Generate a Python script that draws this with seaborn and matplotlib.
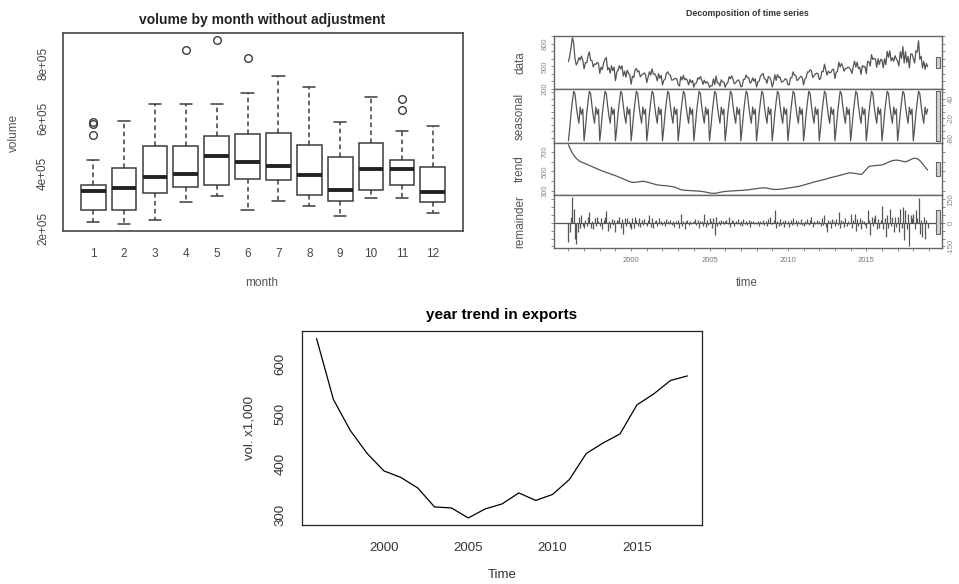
import numpy as np
import pandas as pd
import matplotlib
matplotlib.use("Agg")
import matplotlib.pyplot as plt
from matplotlib.patches import Rectangle
import seaborn as sns

# ------------------------------------------------------------------ data
# boxplot: volume by month (five-number summaries + outliers)
months = list(range(1, 13))
box_lo = [2.24e5, 2.18e5, 2.31e5, 2.96e5, 3.17e5, 2.69e5, 3.00e5, 2.81e5, 2.45e5, 3.10e5, 3.11e5, 2.57e5]
box_q1 = [2.67e5, 2.69e5, 3.31e5, 3.52e5, 3.58e5, 3.80e5, 3.78e5, 3.23e5, 2.99e5, 3.39e5, 3.58e5, 2.98e5]
box_med = [3.35e5, 3.48e5, 3.87e5, 3.98e5, 4.62e5, 4.41e5, 4.26e5, 3.93e5, 3.41e5, 4.15e5, 4.18e5, 3.33e5]
box_q3 = [3.60e5, 4.20e5, 5.01e5, 5.01e5, 5.37e5, 5.42e5, 5.48e5, 5.02e5, 4.61e5, 5.10e5, 4.50e5, 4.25e5]
box_hi = [4.50e5, 5.89e5, 6.52e5, 6.51e5, 6.53e5, 6.92e5, 7.54e5, 7.13e5, 5.88e5, 6.78e5, 5.53e5, 5.72e5]
box_out = [[5.39e5, 5.78e5, 5.86e5], [], [], [8.47e5], [8.83e5], [8.18e5],
           [], [], [], [], [6.32e5, 6.72e5], []]

# decomposition (monthly, 1996-2018, volume x1000)
start_year = 1996
n_years = 23
seasonal_cycle = [-88, -50, -5, 30, 62, 55, 18, -12, -35, 14, -8, 8]
trend_monthly = [
    [776, 745, 715, 690, 668, 650, 635, 622, 611, 602, 595, 590],
    [585, 579, 573, 567, 561, 555, 549, 543, 537, 531, 525, 519],
    [513, 508, 503, 498, 493, 488, 484, 479, 474, 469, 464, 460],
    [455, 449, 444, 438, 433, 427, 421, 416, 410, 404, 399, 393],
    [388, 386, 385, 386, 388, 390, 392, 394, 396, 396, 395, 393],
    [390, 386, 382, 378, 374, 370, 366, 363, 360, 357, 356, 355],
    [353, 352, 351, 350, 349, 347, 345, 343, 341, 338, 333, 327],
    [321, 315, 310, 307, 305, 304, 303, 302, 301, 300, 299, 298],
    [297, 297, 296, 296, 295, 294, 292, 290, 288, 285, 282, 279],
    [276, 274, 273, 272, 272, 274, 277, 280, 283, 286, 288, 290],
    [292, 293, 294, 295, 296, 297, 297, 298, 299, 300, 301, 302],
    [302, 303, 304, 305, 306, 308, 310, 312, 314, 316, 318, 320],
    [322, 324, 326, 327, 328, 329, 329, 328, 326, 323, 320, 317],
    [315, 313, 312, 312, 312, 313, 314, 316, 318, 320, 322, 324],
    [326, 328, 330, 332, 334, 336, 338, 340, 343, 346, 350, 354],
    [358, 362, 366, 370, 374, 378, 382, 386, 390, 393, 396, 399],
    [401, 404, 408, 412, 416, 420, 424, 428, 432, 436, 439, 442],
    [444, 447, 451, 455, 459, 463, 467, 471, 475, 478, 481, 483],
    [484, 483, 481, 479, 477, 475, 472, 470, 468, 475, 490, 505],
    [520, 535, 548, 553, 555, 557, 558, 560, 561, 562, 563, 565],
    [566, 570, 576, 582, 588, 594, 600, 606, 610, 613, 615, 616],
    [615, 613, 610, 606, 603, 600, 600, 603, 608, 615, 622, 628],
    [633, 635, 634, 630, 622, 610, 596, 580, 562, 545, 528, 514],
]
remainder_monthly = [
    [-124, -60, 40, 164, 90, -100, -134, -60, 40, -30, 50, -20],
    [-30, 20, -20, 40, 70, -30, 10, -40, 30, -20, 35, 10],
    [-20, 30, -40, 20, 40, 76, -50, 15, -30, 25, -15, 20],
    [-60, 20, 10, 40, -30, 25, -70, 30, -20, 30, 15, -25],
    [-40, 30, -30, 35, 20, -20, 30, -25, 20, -15, 25, -10],
    [-20, 20, 50, -25, 30, -30, 15, 20, -20, 30, -10, 15],
    [-15, 10, -20, 25, 15, -10, 20, -15, 10, -25, 15, -5],
    [20, -30, 55, -20, 10, -40, 15, 20, -15, 10, -10, 5],
    [10, 25, -15, 20, -30, 15, 10, -20, 60, -25, 20, -15],
    [30, 15, -30, 30, -80, 40, -20, 10, -15, 20, 10, -10],
    [15, 20, -10, 35, -25, 20, 10, -20, 15, -10, 25, -15],
    [10, -20, 25, -10, 15, -15, 20, -25, 10, 15, -10, 5],
    [-10, 15, -20, 10, -5, 20, -15, 10, -20, 25, 40, -10],
    [-5, 20, 80, -30, 15, -20, 25, -15, 10, -25, 20, -10],
    [15, -25, 20, -15, 30, -10, 20, -20, 15, -10, 25, -15],
    [-20, 15, -10, 25, -15, 20, 40, -25, 15, -10, 20, -5],
    [10, -20, 30, -15, 50, -25, -60, 20, 15, -30, 25, 10],
    [-20, 25, -15, 70, -30, 20, 15, -25, 30, -20, 15, -10],
    [60, -30, 20, 60, -50, 25, -20, 30, -40, 20, 10, -15],
    [-30, 80, 20, -80, 40, -20, 30, 50, -40, 25, -30, 20],
    [110, -40, 30, -90, 50, -30, 90, -20, 40, -60, 35, -25],
    [40, -60, 90, -30, 100, -110, 80, -40, 60, -150, 50, 30],
    [60, -40, 80, 30, 160, -70, 20, -90, 40, -100, 20, -30],
]

# yearly trend
years = list(range(1996, 2019))
year_trend = [652, 530, 468, 422, 387, 374, 353, 315, 313, 293, 311, 321,
              343, 328, 340, 370, 422, 443, 461, 519, 541, 568, 577]

# ------------------------------------------------------------------ setup
sns.set_style("white")
plt.rcParams["font.family"] = ["Liberation Sans", "DejaVu Sans"]

W, H = 959, 584
fig = plt.figure(figsize=(W / 100, H / 100), dpi=100)


def ax_px(l, t, r, b):
    return fig.add_axes([l / W, 1 - b / H, (r - l) / W, (b - t) / H])


def ftext(x, y, s, **kw):
    fig.text(x / W, 1 - y / H, s, ha="center", va="center", **kw)


# ------------------------------------------------------------------ boxplot
c_box = "#3c3c3c"
rows = []
for m, lo, q1, md, q3, hi, out in zip(months, box_lo, box_q1, box_med, box_q3, box_hi, box_out):
    vals = [lo] + [q1] * 5 + [md] * 5 + [q3] * 5 + [hi] + out
    rows += [(m, v) for v in vals]
df_box = pd.DataFrame(rows, columns=["month", "volume"])

ax1 = ax_px(63, 33, 463, 231)
sns.boxplot(data=df_box, x="month", y="volume", ax=ax1, color="white",
            linecolor=c_box, linewidth=1.1, width=0.8, whis=1.5, fliersize=5.5,
            medianprops=dict(linewidth=2.8, color="#222222"),
            whiskerprops=dict(linestyle=(0, (3, 2.2))),
            flierprops=dict(marker="o", markerfacecolor="none",
                            markeredgecolor=c_box, markeredgewidth=1.0))
ax1.set_xlim(-0.98, 11.98)
ax1.set_ylim(1.914e5, 9.096e5)
yt = np.arange(2e5, 9.01e5, 1e5)
ax1.set_yticks(yt, [f"{v/1e5:.0f}e+05" if round(v / 1e5) % 2 == 0 else "" for v in yt])
ax1.set_xlabel("")
ax1.set_ylabel("")
ax1.tick_params(direction="out", length=5, width=1.0, color=c_box, labelsize=8.5,
                labelcolor="#444444", pad=7)
ax1.tick_params(axis="y", labelrotation=90, pad=5)
for lab in ax1.get_yticklabels():
    lab.set_va("center")
for s in ax1.spines.values():
    s.set_visible(True)
    s.set_color("#555555")
    s.set_linewidth(1.3)
ftext(262, 20, "volume by month without adjustment", fontsize=10, fontweight="bold", color="#222222")
ftext(262, 283, "month", fontsize=8.5, color="#555555")
ftext(14, 133, "volume", fontsize=8.5, color="#555555", rotation=90)

# ------------------------------------------------------------------ decomposition
c_dec = "#555555"
t = start_year + np.arange(n_years * 12) / 12
seasonal = np.tile(seasonal_cycle, n_years)
trend = np.array(trend_monthly, dtype=float).ravel()
remainder = np.array(remainder_monthly, dtype=float).ravel()
data = trend + seasonal + remainder
series = [data, seasonal, trend, remainder]
names = ["data", "seasonal", "trend", "remainder"]
tick_sets = [
    (np.arange(200, 901, 100), [200, 500, 800]),
    (np.arange(-80, 61, 20), [-80, -20, 40]),
    (np.arange(300, 701, 100), [300, 500, 700]),
    (np.arange(-150, 151, 50), [-150, 0, 150]),
]
edges = [35.7, 89.3, 142.7, 195.3, 248.3]
xl = (1995.08, 2019.83)
mx = min(float(np.max(s) - np.min(s)) for s in series)

for i, (s, nm) in enumerate(zip(series, names)):
    ax = ax_px(554, edges[i], 942, edges[i + 1])
    if i < 3:
        sns.lineplot(x=t, y=s, ax=ax, color=c_dec, linewidth=0.9, errorbar=None)
    else:
        ax.vlines(t, 0, s, color=c_dec, linewidth=0.9)
        ax.axhline(0, color=c_dec, linewidth=0.9)
    lo, hi = float(np.min(s)), float(np.max(s))
    pad = 0.04 * (hi - lo)
    ax.set_ylim(lo - pad, hi + pad)
    ax.set_xlim(*xl)
    ticks, shown = tick_sets[i]
    ax.set_yticks(ticks, [str(v) if v in shown else "" for v in ticks])
    right = i % 2 == 1
    ax.tick_params(axis="y", left=True, right=True, labelleft=not right, labelright=right,
                   direction="out", length=2, width=0.6, color="#777777",
                   labelsize=5.5, labelcolor="#888888", labelrotation=90, pad=2)
    for lab in ax.get_yticklabels():
        lab.set_va("center")
    ax.set_xticks([2000, 2005, 2010, 2015])
    ax.set_xticks(np.arange(1996, 2020), minor=True)
    ax.tick_params(axis="x", which="both", bottom=True, direction="out", length=2,
                   width=0.6, color="#777777", labelbottom=(i == 3),
                   labelsize=5.5, labelcolor="#777777", pad=4)
    ax.set_xlabel("")
    ax.set_ylabel("")
    for sp in ax.spines.values():
        sp.set_visible(True)
        sp.set_color("#666666")
        sp.set_linewidth(1.0)
    # range bar (equal height in data units across panels)
    dx = (xl[1] - xl[0]) / 64
    yc = (lo + hi) / 2
    ax.add_patch(Rectangle((xl[1] - dx, yc - mx / 2), 0.6 * dx, mx, facecolor="#d3d3d3",
                           edgecolor="#666666", linewidth=0.8, clip_on=False, zorder=5))
    ftext(520, (edges[i] + edges[i + 1]) / 2, nm, fontsize=8.5, color="#555555", rotation=90)

ftext(747, 14, "Decomposition of time series", fontsize=6.3, fontweight="bold", color="#333333")
ftext(747, 283, "time", fontsize=8.3, color="#555555")

# ------------------------------------------------------------------ year trend
ax3 = ax_px(301.7, 330.7, 702.3, 525.3)
sns.lineplot(x=years, y=year_trend, ax=ax3, color="black", linewidth=0.9, errorbar=None)
ax3.set_xlim(1995.12, 2018.88)
ax3.set_ylim(278.3, 667.4)
ax3.set_xticks([2000, 2005, 2010, 2015])
yt3 = np.arange(300, 651, 50)
ax3.set_yticks(yt3, [str(v) if v % 100 == 0 else "" for v in yt3])
ax3.tick_params(direction="out", length=6, width=0.8, color="#222222", labelsize=9.5,
                labelcolor="#333333", pad=6)
ax3.tick_params(axis="y", labelrotation=90, pad=5)
for lab in ax3.get_yticklabels():
    lab.set_va("center")
ax3.set_xlabel("")
ax3.set_ylabel("")
for sp in ax3.spines.values():
    sp.set_visible(True)
    sp.set_color("#222222")
    sp.set_linewidth(0.9)
ftext(501.7, 315, "year trend in exports", fontsize=11, fontweight="bold", color="black")
ftext(250, 428, "vol. x1,000", fontsize=9.5, color="#333333", rotation=90)
ftext(501.7, 575, "Time", fontsize=9.5, color="#333333")

fig.savefig("out.png", dpi=100)
